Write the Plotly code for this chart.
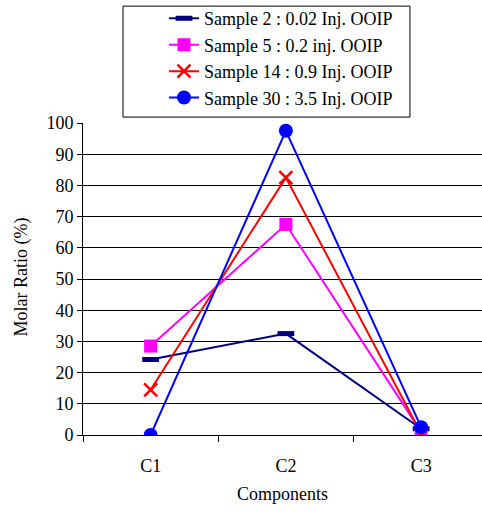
import plotly.graph_objects as go

components = ["C1", "C2", "C3"]
sample2 = [24.2, 32.5, 2.0]
sample5 = [28.5, 67.5, 1.0]
sample14 = [14.5, 82.5, 0.5]
sample30 = [0.0, 97.5, 2.5]

series = [
    ("Sample 2 : 0.02 Inj. OOIP", sample2, "#000080", "line-ew", 12, 5),
    ("Sample 5 : 0.2 inj. OOIP", sample5, "#FF00FF", "square", 13, 0),
    ("Sample 14 : 0.9 Inj. OOIP", sample14, "#FF0000", "x-thin-open", 13, 2.5),
    ("Sample 30 : 3.5 Inj. OOIP", sample30, "#0000FF", "circle", 14, 0),
]

fig = go.Figure()
for name, vals, color, symbol, size, mlw in series:
    fig.add_trace(go.Scatter(
        x=components, y=vals, name=name, mode="lines+markers",
        line=dict(color=color, width=2),
        marker=dict(symbol=symbol, size=size, color=color,
                    line=dict(color=color, width=mlw)),
    ))

font = "Liberation Serif, Times New Roman, serif"
fs = 18

# frame around the legend, wider than plotly's own legend box
fig.add_shape(type="rect", xref="paper", yref="paper",
              x0=0.1003, x1=0.8195, y0=1.019, y1=1.3746,
              line=dict(color="black", width=1), fillcolor="white", layer="below")

# y-axis title placed as a rotated annotation
fig.add_annotation(text="Molar Ratio (%)", xref="paper", yref="paper",
                   x=-0.153, y=0.508, xanchor="center", yanchor="middle",
                   textangle=-90, showarrow=False,
                   font=dict(family=font, size=fs, color="black"))

fig.update_layout(
    width=482, height=512,
    margin=dict(l=83, r=0, t=120, b=77),
    paper_bgcolor="white", plot_bgcolor="white",
    font=dict(family=font, size=fs, color="black"),
    showlegend=True,
    legend=dict(
        x=0.203, xanchor="left", y=1.022, yanchor="bottom",
        borderwidth=0, bgcolor="rgba(0,0,0,0)",
        font=dict(family=font, size=fs), tracegroupgap=0,
    ),
    xaxis=dict(
        type="category", range=[-0.5, 2.45],
        showgrid=False, showline=True, linecolor="black", linewidth=1,
        ticks="outside", tickson="boundaries", ticklen=6, tickcolor="black",
        ticklabelstandoff=14,
        title=dict(text="Components", font=dict(family=font, size=fs), standoff=12),
        tickfont=dict(family=font, size=fs),
    ),
    yaxis=dict(
        range=[0, 100], dtick=10, showgrid=True, gridcolor="black", gridwidth=1,
        showline=True, linecolor="black", linewidth=1, zeroline=False,
        ticks="outside", ticklen=5, tickcolor="black",
        tickfont=dict(family=font, size=fs),
    ),
)

fig.write_html("out.html")
